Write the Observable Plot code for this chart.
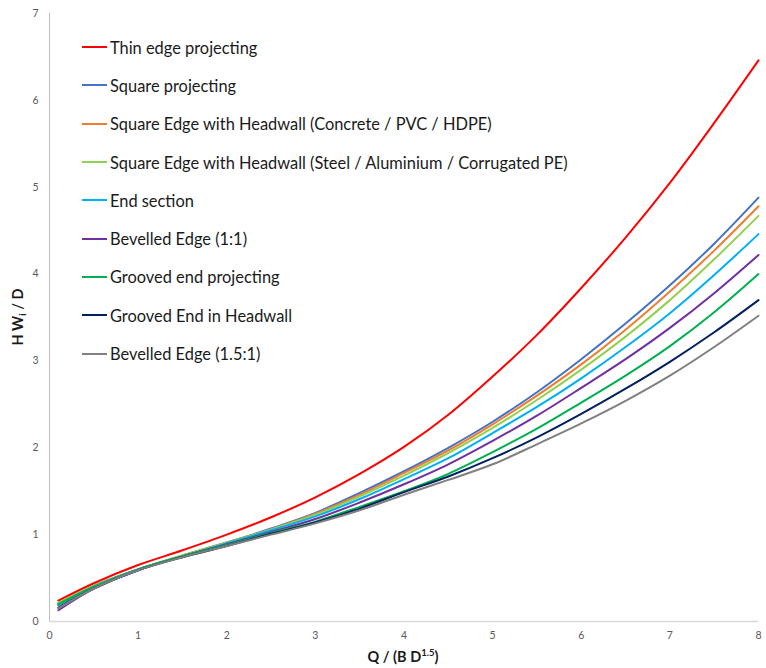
<!DOCTYPE html>
<html>
<head>
<meta charset="utf-8">
<script src="https://cdn.jsdelivr.net/npm/d3@7"></script>
<script src="https://cdn.jsdelivr.net/npm/@observablehq/plot@0.6"></script>
<style>
  html, body { margin: 0; padding: 0; background: #fff; }
  #wrap { position: relative; width: 766px; height: 668px; font-family: Lato, "Liberation Sans", sans-serif; }
  #legend { position: absolute; left: 82px; top: 28px; }
  .row { display: flex; align-items: center; height: 38.3px; font-size: 16.4px; color: #1a1a1a; white-space: nowrap; }
  .row svg { margin-right: 3px; }
</style>
</head>
<body>
<div id="wrap"></div>
<script>
// Q / (B D^1.5)
const xs = [0.1, 0.5, 1, 1.5, 2, 2.5, 3, 3.5, 4, 4.5, 5, 5.5, 6, 6.5, 7, 7.5, 8];

const thinEdgeProjecting   = [0.24, 0.44, 0.65, 0.82, 1.00, 1.20, 1.43, 1.70, 2.01, 2.38, 2.82, 3.30, 3.84, 4.42, 5.05, 5.74, 6.46];
const squareProjecting     = [0.19, 0.41, 0.60, 0.76, 0.91, 1.07, 1.25, 1.48, 1.73, 2.00, 2.30, 2.64, 3.02, 3.43, 3.87, 4.35, 4.88];
const squareHeadwallConc   = [0.21, 0.41, 0.60, 0.76, 0.91, 1.06, 1.24, 1.46, 1.71, 1.97, 2.27, 2.60, 2.96, 3.36, 3.80, 4.27, 4.78];
const squareHeadwallSteel  = [0.21, 0.41, 0.60, 0.76, 0.91, 1.06, 1.23, 1.44, 1.68, 1.94, 2.23, 2.55, 2.90, 3.28, 3.70, 4.17, 4.67];
const endSection           = [0.19, 0.40, 0.60, 0.75, 0.90, 1.05, 1.21, 1.41, 1.64, 1.88, 2.17, 2.47, 2.80, 3.16, 3.55, 3.99, 4.46];
const bevelled11           = [0.13, 0.38, 0.59, 0.75, 0.89, 1.03, 1.18, 1.37, 1.58, 1.81, 2.08, 2.37, 2.69, 3.02, 3.38, 3.78, 4.22];
const groovedProjecting    = [0.20, 0.40, 0.60, 0.75, 0.88, 1.02, 1.15, 1.32, 1.50, 1.70, 1.95, 2.22, 2.52, 2.83, 3.17, 3.56, 4.00];
const groovedHeadwall      = [0.16, 0.38, 0.59, 0.74, 0.87, 1.01, 1.14, 1.30, 1.49, 1.67, 1.88, 2.12, 2.39, 2.68, 2.99, 3.33, 3.70];
const bevelled151          = [0.15, 0.38, 0.59, 0.74, 0.87, 1.00, 1.13, 1.28, 1.46, 1.63, 1.81, 2.04, 2.28, 2.54, 2.83, 3.16, 3.52];

const seriesNames = [
  "Thin edge projecting",
  "Square projecting",
  "Square Edge with Headwall (Concrete / PVC / HDPE)",
  "Square Edge with Headwall (Steel / Aluminium / Corrugated PE)",
  "End section",
  "Bevelled Edge (1:1)",
  "Grooved end projecting",
  "Grooved End in Headwall",
  "Bevelled Edge (1.5:1)"
];
const seriesValues = [thinEdgeProjecting, squareProjecting, squareHeadwallConc, squareHeadwallSteel,
  endSection, bevelled11, groovedProjecting, groovedHeadwall, bevelled151];
const seriesColors = ["#FF0000", "#4472C4", "#ED7D31", "#92D050", "#00B0F0", "#7030A0", "#00B050", "#002060", "#808080"];

const xTicks = [0, 1, 2, 3, 4, 5, 6, 7, 8];
const yTicks = [0, 1, 2, 3, 4, 5, 6, 7];

const data = seriesNames.flatMap((name, i) =>
  xs.map((x, j) => ({series: name, x, y: seriesValues[i][j]})));

const svg = Plot.plot({
  width: 766,
  height: 668,
  marginLeft: 49,
  marginRight: 8,
  marginTop: 13,
  marginBottom: 47,
  style: {fontFamily: "Lato, 'Liberation Sans', sans-serif", background: "#fff"},
  x: {domain: [0, 8], label: null},
  y: {domain: [0, 7], label: null},
  color: {domain: seriesNames, range: seriesColors},
  marks: [
    Plot.ruleX([0], {stroke: "#bfbfbf", strokeWidth: 1}),
    Plot.ruleY([0], {stroke: "#d9d9d9", strokeWidth: 1.5}),
    Plot.axisX({ticks: xTicks, tickFormat: d3.format("d"), tickSize: 0, tickPadding: 10, fontSize: 10.5, color: "#595959", label: null}),
    Plot.axisY({ticks: yTicks, tickFormat: d3.format("d"), tickSize: 0, tickPadding: 11, fontSize: 10.5, color: "#595959", label: null}),
    Plot.line(data, {x: "x", y: "y", z: "series", stroke: "series", strokeWidth: 2, curve: "catmull-rom"})
  ]
});

const s = d3.select(svg);
const xt = s.append("text")
  .attr("x", 403).attr("y", 662)
  .attr("text-anchor", "middle")
  .attr("font-weight", "bold").attr("font-size", 14.5).attr("fill", "#1a1a1a");
xt.append("tspan").text("Q / (B D");
xt.append("tspan").text("1.5").attr("font-size", 9.5).attr("dy", -6);
xt.append("tspan").text(")").attr("dy", 6);

const yt = s.append("text")
  .attr("transform", "translate(23,317) rotate(-90)")
  .attr("text-anchor", "middle")
  .attr("font-weight", "bold").attr("font-size", 14.5).attr("fill", "#1a1a1a");
yt.append("tspan").text("H W");
yt.append("tspan").text("i").attr("font-size", 9.5).attr("dy", 3);
yt.append("tspan").text(" / D").attr("dy", -3);

const wrap = document.getElementById("wrap");
wrap.appendChild(svg);

const legend = document.createElement("div");
legend.id = "legend";
seriesNames.forEach((name, i) => {
  const row = document.createElement("div");
  row.className = "row";
  row.innerHTML = `<svg width="25" height="4"><line x1="0" x2="25" y1="2" y2="2" stroke="${seriesColors[i]}" stroke-width="2"/></svg><span>${name}</span>`;
  legend.appendChild(row);
});
wrap.appendChild(legend);
</script>
</body>
</html>
